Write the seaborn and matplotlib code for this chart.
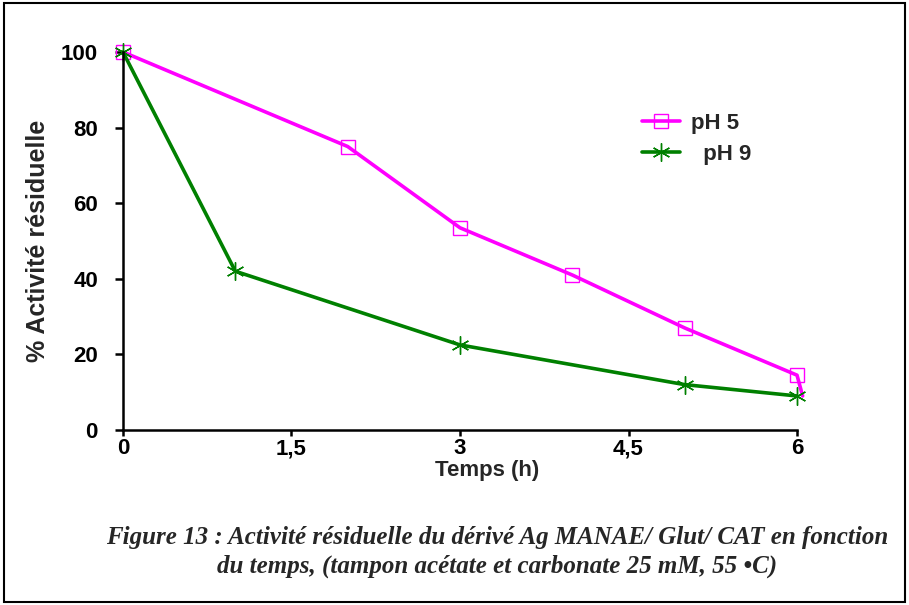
import matplotlib
matplotlib.use("Agg")
import matplotlib.pyplot as plt
import seaborn as sns
from matplotlib.patches import Rectangle
from matplotlib.ticker import FixedLocator, FixedFormatter

# Data
time_ph5 = [0, 2, 3, 4, 5, 6, 6.05]
act_ph5 = [100, 75, 53.5, 41, 27, 14.5, 9]
time_ph9 = [0, 1, 3, 5, 6]
act_ph9 = [100, 42, 22.5, 12, 9]

x_ticks = [0, 1.5, 3, 4.5, 6]
x_labels = ["0", "1,5", "3", "4,5", "6"]
y_ticks = [0, 20, 40, 60, 80, 100]

caption = ("Figure 13 : Activité résiduelle du dérivé Ag MANAE/ Glut/ CAT en fonction\n"
           "du temps, (tampon acétate et carbonate 25 mM, 55 \u2022C)")

sns.set_style("white")
plt.rcParams["font.family"] = ["Liberation Sans", "DejaVu Sans"]

fig = plt.figure(figsize=(9.09, 6.05), dpi=100)
ax = fig.add_axes([0.1353, 0.2893, 0.7415, 0.6247])

sns.lineplot(x=time_ph5, y=act_ph5, ax=ax, color="#ff00ff", linewidth=2.6,
             marker="s", markersize=10, markerfacecolor="none",
             markeredgecolor="#ff00ff", markeredgewidth=1.0,
             markevery=list(range(6)), label="pH 5", clip_on=False,
             sort=False)
sns.lineplot(x=time_ph9, y=act_ph9, ax=ax, color="#008000", linewidth=2.6,
             marker=(6, 2, 0), markersize=13, markeredgecolor="#008000",
             markeredgewidth=1.0, label="  pH 9", clip_on=False, sort=False)

ax.set_xlim(0, 6)
ax.set_ylim(0, 100)
ax.xaxis.set_major_locator(FixedLocator(x_ticks))
ax.xaxis.set_major_formatter(FixedFormatter(x_labels))
ax.set_yticks(y_ticks)
for s in ["top", "right"]:
    ax.spines[s].set_visible(False)
for s in ["left", "bottom"]:
    ax.spines[s].set_color("black")
    ax.spines[s].set_linewidth(1.8)
ax.tick_params(axis="y", direction="out", length=6, width=1.8, pad=12,
               labelsize=16, colors="black", left=True)
ax.tick_params(axis="x", direction="out", length=4, width=1.8, pad=2,
               labelsize=16, colors="black", bottom=True)
for lab in ax.get_xticklabels() + ax.get_yticklabels():
    lab.set_fontweight("bold")

ax.set_xlabel("Temps (h)", fontsize=16, fontweight="bold", labelpad=0, va="top")
ax.xaxis.set_label_coords(0.54, -0.08)
ax.set_ylabel("% Activité résiduelle", fontsize=18, fontweight="bold", labelpad=8)

leg = ax.legend(loc="upper left", bbox_to_anchor=(0.77, 0.84), frameon=False,
                fontsize=16, handlelength=1.7, handletextpad=0.5,
                labelspacing=0.45, borderpad=0, borderaxespad=0)
for t in leg.get_texts():
    t.set_fontweight("bold")

fig.text(0.547, 0.0876, caption, ha="center", va="center", fontsize=18,
         fontweight="bold", fontstyle="italic", linespacing=1.3,
         family=["Liberation Serif", "DejaVu Serif"])

fig.patches.append(Rectangle((0.004, 0.005), 0.992, 0.99, transform=fig.transFigure,
                             fill=False, edgecolor="black", linewidth=1.5))

fig.savefig("out.png", dpi=100)
